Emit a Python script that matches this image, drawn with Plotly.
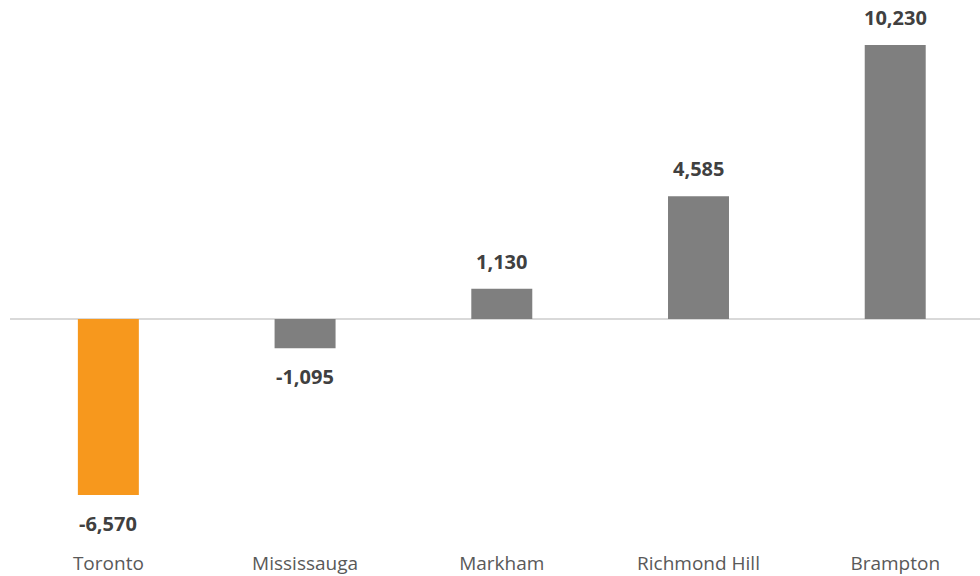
import plotly.graph_objects as go

cities = ["Toronto", "Mississauga", "Markham", "Richmond Hill", "Brampton"]
values = [-6570, -1095, 1130, 4585, 10230]
colors = ["#F7981D", "#7F7F7F", "#7F7F7F", "#7F7F7F", "#7F7F7F"]

fig = go.Figure()
fig.add_trace(go.Bar(x=cities, y=values, marker=dict(color=colors, line=dict(width=0)),
                     width=0.31, hoverinfo="skip"))

for c, v in zip(cities, values):
    fig.add_annotation(x=c, y=v, text=f"{v:,}", showarrow=False,
                       yanchor="bottom" if v > 0 else "top",
                       yshift=12 if v > 0 else -13,
                       font=dict(family="Open Sans", size=20, color="#404040", weight="bold"))

fig.update_layout(
    width=980, height=576,
    margin=dict(l=10, r=0, t=0, b=36),
    plot_bgcolor="white", paper_bgcolor="white",
    showlegend=False,
    xaxis=dict(range=[-0.5, 4.431], showgrid=False, showline=False, ticks="",
               ticklabelstandoff=10,
               tickfont=dict(family="Open Sans", size=19, color="#595959")),
    yaxis=dict(range=[-8251, 11910], showgrid=False, showticklabels=False,
               zeroline=True, zerolinecolor="#D9D9D9", zerolinewidth=2),
)
fig.write_html("out.html")
